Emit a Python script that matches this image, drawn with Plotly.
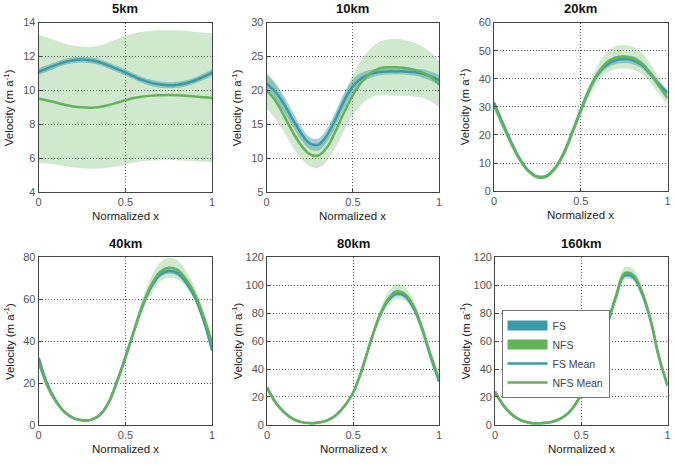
import plotly.graph_objects as go

# ---------------- data ----------------
x_norm = [0.0, 0.05, 0.1, 0.15, 0.2, 0.25, 0.3, 0.35, 0.4, 0.45, 0.5,
          0.55, 0.6, 0.65, 0.7, 0.75, 0.8, 0.85, 0.9, 0.95, 1.0]

titles = ["5km", "10km", "20km", "40km", "80km", "160km"]
y_ranges = [[4, 14], [5, 30], [0, 60], [0, 80], [0, 120], [0, 120]]
y_dticks = [2, 5, 10, 20, 20, 20]

# 5km
fs_mean_5 = [11.1, 11.3, 11.5, 11.67, 11.78, 11.82, 11.78, 11.66, 11.47, 11.27, 11.05,
             10.82, 10.6, 10.44, 10.34, 10.3, 10.33, 10.42, 10.58, 10.8, 11.05]
fs_spread_5 = [0.2, 0.19, 0.18, 0.18, 0.18, 0.18, 0.18, 0.18, 0.18, 0.18, 0.18,
               0.18, 0.18, 0.18, 0.18, 0.18, 0.18, 0.18, 0.18, 0.19, 0.2]
nfs_mean_5 = [9.5, 9.4, 9.28, 9.15, 9.05, 9.0, 8.98, 9.02, 9.12, 9.27, 9.42,
              9.55, 9.64, 9.69, 9.71, 9.72, 9.71, 9.68, 9.64, 9.6, 9.55]
nfs_spread_5 = [3.78, 3.72, 3.66, 3.62, 3.6, 3.59, 3.6, 3.63, 3.69, 3.75, 3.79,
                3.81, 3.82, 3.83, 3.83, 3.83, 3.83, 3.83, 3.82, 3.81, 3.8]

# 10km
fs_mean_10 = [21.0, 19.8, 18.0, 15.8, 13.7, 12.2, 12.0, 13.4, 15.8, 18.5, 20.6,
              21.8, 22.4, 22.7, 22.8, 22.8, 22.8, 22.7, 22.5, 22.1, 21.5]
fs_spread_10 = [1.3, 1.25, 1.2, 1.1, 1.0, 0.9, 0.9, 1.0, 1.1, 1.1, 1.0,
                0.8, 0.6, 0.5, 0.45, 0.45, 0.45, 0.5, 0.6, 0.7, 0.8]
nfs_mean_10 = [20.0, 18.5, 16.3, 13.9, 11.9, 10.6, 10.4, 11.6, 14.0, 16.8, 19.3,
               21.2, 22.5, 23.2, 23.4, 23.4, 23.3, 23.1, 22.7, 22.0, 20.9]
nfs_spread_10 = [2.7, 2.6, 2.4, 2.2, 2.0, 1.8, 1.8, 2.0, 2.4, 2.7, 3.0,
                 3.3, 3.6, 3.9, 4.1, 4.2, 4.1, 4.0, 3.8, 3.6, 3.4]

# 20km
fs_mean_20 = [31.5, 24.2, 17.3, 11.3, 7.2, 5.1, 5.3, 8.2, 13.4, 21.0, 29.0,
              36.3, 41.8, 45.0, 46.6, 47.0, 46.6, 45.0, 41.8, 38.0, 35.0]
fs_spread_20 = [0.9, 0.8, 0.7, 0.6, 0.5, 0.5, 0.5, 0.5, 0.6, 0.8, 1.0,
                1.1, 1.2, 1.3, 1.4, 1.4, 1.4, 1.3, 1.2, 1.1, 1.0]
nfs_mean_20 = [30.5, 23.5, 16.8, 11.0, 7.0, 5.0, 5.2, 8.0, 13.0, 20.5, 28.5,
               36.0, 42.0, 45.8, 47.5, 47.8, 47.3, 45.5, 42.0, 37.5, 33.0]
nfs_spread_20 = [1.8, 1.5, 1.2, 1.0, 0.8, 0.7, 0.7, 0.8, 1.0, 1.3, 1.6,
                 2.2, 3.0, 3.7, 4.1, 4.2, 4.1, 3.8, 3.3, 2.8, 2.3]

# 40km
fs_mean_40 = [32.0, 19.5, 11.5, 6.2, 3.3, 2.2, 2.4, 4.6, 10.3, 20.5, 32.5,
              45.0, 57.0, 66.0, 71.8, 73.5, 72.5, 68.0, 61.0, 50.0, 35.5]
fs_spread_40 = [0.8, 0.7, 0.5, 0.4, 0.3, 0.3, 0.3, 0.4, 0.5, 0.7, 0.9,
                1.0, 1.1, 1.2, 1.3, 1.3, 1.3, 1.2, 1.1, 1.0, 0.9]
nfs_mean_40 = [30.0, 18.5, 11.0, 6.0, 3.2, 2.2, 2.4, 4.5, 10.0, 20.0, 32.0,
               45.0, 57.5, 67.0, 73.0, 75.0, 74.0, 69.5, 62.5, 52.0, 39.0]
nfs_spread_40 = [1.5, 1.2, 0.9, 0.6, 0.5, 0.4, 0.4, 0.5, 0.8, 1.2, 1.8,
                 2.5, 3.2, 4.0, 4.6, 4.8, 4.6, 4.0, 3.2, 2.5, 2.0]

# 80km
fs_mean_80 = [26.5, 15.8, 8.9, 4.3, 2.0, 1.3, 1.7, 3.3, 7.0, 13.5, 23.0,
              39.0, 59.0, 76.5, 88.5, 94.0, 92.5, 84.0, 69.0, 49.0, 31.0]
fs_spread_80 = [0.7, 0.5, 0.3, 0.2, 0.2, 0.2, 0.2, 0.3, 0.4, 0.6, 0.8,
                1.0, 1.2, 1.4, 1.6, 1.7, 1.6, 1.4, 1.2, 1.0, 0.8]
nfs_mean_80 = [27.0, 16.0, 9.0, 4.3, 2.0, 1.3, 1.7, 3.3, 7.0, 13.5, 23.0,
               39.0, 59.0, 77.0, 89.5, 95.5, 94.0, 85.5, 70.0, 50.5, 33.0]
nfs_spread_80 = [1.2, 0.8, 0.5, 0.3, 0.2, 0.2, 0.2, 0.3, 0.5, 0.8, 1.2,
                 1.8, 2.5, 3.5, 4.8, 5.5, 5.0, 4.0, 3.0, 2.2, 1.6]

# 160km
fs_mean_160 = [23.0, 13.6, 7.1, 3.3, 1.6, 1.2, 1.5, 3.0, 6.0, 12.0, 22.0,
               36.0, 54.0, 71.5, 91.0, 107.0, 106.0, 94.5, 75.5, 48.5, 28.0]
fs_spread_160 = [0.6, 0.4, 0.3, 0.2, 0.2, 0.2, 0.2, 0.2, 0.3, 0.4, 0.6,
                 0.8, 1.0, 1.2, 1.4, 1.5, 1.5, 1.3, 1.1, 0.9, 0.7]
nfs_mean_160 = [24.0, 14.0, 7.3, 3.4, 1.6, 1.2, 1.5, 3.0, 6.0, 12.0, 22.0,
                36.0, 54.0, 72.0, 92.0, 108.5, 107.5, 96.0, 76.5, 49.0, 29.0]
nfs_spread_160 = [1.0, 0.6, 0.4, 0.3, 0.2, 0.2, 0.2, 0.3, 0.4, 0.6, 0.9,
                  1.3, 1.8, 2.5, 3.5, 4.5, 4.3, 3.5, 2.6, 1.8, 1.3]

fs_means = [fs_mean_5, fs_mean_10, fs_mean_20, fs_mean_40, fs_mean_80, fs_mean_160]
fs_spreads = [fs_spread_5, fs_spread_10, fs_spread_20, fs_spread_40, fs_spread_80, fs_spread_160]
nfs_means = [nfs_mean_5, nfs_mean_10, nfs_mean_20, nfs_mean_40, nfs_mean_80, nfs_mean_160]
nfs_spreads = [nfs_spread_5, nfs_spread_10, nfs_spread_20, nfs_spread_40, nfs_spread_80, nfs_spread_160]

legend_names = ["FS", "NFS", "FS Mean", "NFS Mean"]

# ---------------- style / layout ----------------
W, H = 675, 466
FONT = "Liberation Sans, Arial, sans-serif"
FS_C = "#3a9aa8"
NFS_C = "#64b25a"
FS_FILL = "rgba(58,154,168,0.45)"
NFS_FILL = "rgba(100,178,90,0.30)"

# plot boxes in pixels: left, right, top, bottom
boxes = [(36, 211, 17, 191), (266, 440, 17, 191), (495.5, 670.5, 17, 190),
         (36, 211, 258, 430), (266.5, 440, 258, 430), (496.5, 670.5, 258, 430)]

fig = go.Figure()
annotations = []
layout = {}

for i in range(6):
    sfx = "" if i == 0 else str(i + 1)
    xa, ya = "x" + sfx, "y" + sfx
    fm, fsd = fs_means[i], fs_spreads[i]
    nm, nsd = nfs_means[i], nfs_spreads[i]
    fs_up = [m + s for m, s in zip(fm, fsd)]
    fs_lo = [m - s for m, s in zip(fm, fsd)]
    nfs_up = [m + s for m, s in zip(nm, nsd)]
    nfs_lo = [m - s for m, s in zip(nm, nsd)]

    common = dict(xaxis=xa, yaxis=ya, showlegend=False, hoverinfo="skip")
    fig.add_trace(go.Scatter(x=x_norm, y=nfs_up, mode="lines",
                             line=dict(width=0, shape="spline", color=NFS_C), **common))
    fig.add_trace(go.Scatter(x=x_norm, y=nfs_lo, mode="lines", fill="tonexty",
                             fillcolor=NFS_FILL,
                             line=dict(width=0, shape="spline", color=NFS_C), **common))
    fig.add_trace(go.Scatter(x=x_norm, y=fs_up, mode="lines",
                             line=dict(width=0, shape="spline", color=FS_C), **common))
    fig.add_trace(go.Scatter(x=x_norm, y=fs_lo, mode="lines", fill="tonexty",
                             fillcolor=FS_FILL,
                             line=dict(width=0, shape="spline", color=FS_C), **common))
    fig.add_trace(go.Scatter(x=x_norm, y=fm, mode="lines",
                             line=dict(width=2.5, shape="spline", color=FS_C), **common))
    fig.add_trace(go.Scatter(x=x_norm, y=nm, mode="lines",
                             line=dict(width=2.5, shape="spline", color=NFS_C), **common))

    l, r, t, b = boxes[i]
    axis_common = dict(showline=True, linecolor="#444", linewidth=1, mirror=True,
                       showgrid=True, gridcolor="#666", griddash="1px,2px", gridwidth=1,
                       zeroline=False, ticks="inside", ticklen=3, tickcolor="#444",
                       tickfont=dict(family=FONT, size=11, color="#555"))
    layout["xaxis" + sfx] = dict(domain=[l / W, r / W], anchor=ya, range=[0, 1],
                                 dtick=0.5, tick0=0, **axis_common)
    layout["yaxis" + sfx] = dict(domain=[1 - b / H, 1 - t / H], anchor=xa,
                                 range=y_ranges[i], dtick=y_dticks[i], **axis_common)

    cx = (l + r) / 2
    annotations.append(dict(text="<b>%s</b>" % titles[i], x=cx / W, y=1 - (t - 14) / H,
                            xref="paper", yref="paper", xanchor="center", yanchor="middle",
                            showarrow=False, font=dict(family=FONT, size=13, color="#111")))
    annotations.append(dict(text="Normalized x", x=cx / W, y=1 - (b + 25) / H,
                            xref="paper", yref="paper", xanchor="center", yanchor="middle",
                            showarrow=False, font=dict(family=FONT, size=11.5, color="#222")))
    annotations.append(dict(text="Velocity (m a<sup>-1</sup>)", x=(l - 30) / W,
                            y=1 - ((t + b) / 2) / H, xref="paper", yref="paper",
                            xanchor="center", yanchor="middle", textangle=-90,
                            showarrow=False, font=dict(family=FONT, size=11.5, color="#222")))

# legend-only dummy traces
legend_styles = [(FS_C, 10), (NFS_C, 10), (FS_C, 2.5), (NFS_C, 2.5)]
for name, (col, w) in zip(legend_names, legend_styles):
    fig.add_trace(go.Scatter(x=[None], y=[None], mode="lines", name=name,
                             line=dict(color=col, width=w), xaxis="x6", yaxis="y6"))

fig.update_layout(
    width=W, height=H,
    margin=dict(l=0, r=0, t=0, b=0),
    paper_bgcolor="white", plot_bgcolor="white",
    font=dict(family=FONT, size=11, color="#333"),
    annotations=annotations,
    legend=dict(x=503 / W, y=1 - 312 / H, xanchor="left", yanchor="top",
                bgcolor="white", bordercolor="#777", borderwidth=1,
                font=dict(family=FONT, size=10.5, color="#444"),
                traceorder="normal", tracegroupgap=0, itemwidth=40),
    showlegend=True,
    **layout,
)

fig.write_html("out.html")
